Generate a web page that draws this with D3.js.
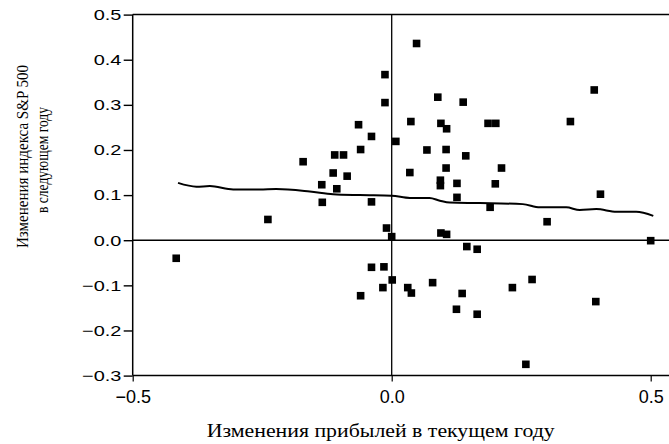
<!DOCTYPE html>
<html>
<head>
<meta charset="utf-8">
<script src="https://cdn.jsdelivr.net/npm/d3@7"></script>
<style>
  html, body { margin: 0; padding: 0; background: #fff; }
  svg { display: block; }
</style>
</head>
<body>
<svg id="chart" width="669" height="444"></svg>
<script>
// ---- data ----
const earningsChange = [
  -0.416, -0.239, -0.171, -0.135, -0.134, -0.113, -0.110, -0.093, -0.106, -0.086,
  -0.064, -0.060, -0.039, -0.039, -0.013, -0.013, 0.008, -0.010, 0.000, -0.060,
  -0.039, -0.015, 0.001, -0.017, 0.031, 0.038, 0.048, 0.037, 0.035, 0.068,
  0.079, 0.089, 0.095, 0.106, 0.105, 0.105, 0.094, 0.094, 0.095, 0.106,
  0.126, 0.126, 0.138, 0.143, 0.145, 0.165, 0.136, 0.125, 0.165, 0.186,
  0.201, 0.200, 0.212, 0.190, 0.233, 0.271, 0.259, 0.300, 0.345, 0.391,
  0.403, 0.394, 0.500
];
const spChangeNextYear = [
  -0.040, 0.046, 0.174, 0.123, 0.084, 0.149, 0.189, 0.189, 0.114, 0.142,
  0.256, 0.201, 0.230, 0.085, 0.367, 0.305, 0.219, 0.027, 0.008, -0.123,
  -0.060, -0.059, -0.088, -0.105, -0.105, -0.117, 0.436, 0.263, 0.150, 0.200,
  -0.094, 0.317, 0.259, 0.247, 0.201, 0.160, 0.133, 0.121, 0.016, 0.013,
  0.126, 0.095, 0.306, 0.187, -0.014, -0.020, -0.118, -0.153, -0.164, 0.259,
  0.259, 0.125, 0.160, 0.073, -0.105, -0.087, -0.275, 0.041, 0.263, 0.333,
  0.102, -0.136, -0.001
];
const trendX = [-0.4125, -0.377, -0.351, -0.306, -0.255, -0.223, -0.158, -0.113, -0.062, 0.000,
  0.035, 0.073, 0.093, 0.112, 0.170, 0.253, 0.286, 0.337, 0.363, 0.395, 0.434, 0.472, 0.505];
const trendY = [0.127, 0.1186, 0.120, 0.1126, 0.1126, 0.1135, 0.108, 0.102, 0.100, 0.0987,
  0.0935, 0.0935, 0.0876, 0.0835, 0.0824, 0.080, 0.0728, 0.0728, 0.067, 0.069, 0.063, 0.063, 0.054];
const xTicks = [-0.5, 0, 0.5];
const yTicks = [-0.3, -0.2, -0.1, 0.0, 0.1, 0.2, 0.3, 0.4, 0.5];
const xTitle = "Изменения прибылей в текущем году";
const yTitle1 = "Изменения индекса S&P 500";
const yTitle2 = "в следующем году";

// ---- drawing ----
const svg = d3.select("#chart");
const W = 669;
const x = d3.scaleLinear().domain([-0.5, 0.5]).range([132.7, 650.7]);
const y = d3.scaleLinear().domain([-0.3, 0.5]).range([375.6, 14.6]);
const fmt = d3.format(".1f");

// frame lines (left, top, bottom) extending to right edge
const frame = svg.append("g").attr("stroke", "#000").attr("fill", "none");
frame.append("line").attr("x1", x(-0.5)).attr("x2", x(-0.5)).attr("y1", y(0.5)).attr("y2", y(-0.3)).attr("stroke-width", 1.5);
frame.append("line").attr("x1", x(-0.5)).attr("x2", W).attr("y1", y(0.5)).attr("y2", y(0.5)).attr("stroke-width", 1.5);
frame.append("line").attr("x1", x(-0.5)).attr("x2", W).attr("y1", y(-0.3)).attr("y2", y(-0.3)).attr("stroke-width", 1.5);
// zero cross lines
frame.append("line").attr("x1", x(0)).attr("x2", x(0)).attr("y1", y(0.5)).attr("y2", y(-0.3)).attr("stroke-width", 1.3);
frame.append("line").attr("x1", x(-0.5)).attr("x2", W).attr("y1", y(0)).attr("y2", y(0)).attr("stroke-width", 1.3);

// y axis
const yAxis = svg.append("g")
  .attr("transform", `translate(${x(-0.5)},0)`)
  .call(d3.axisLeft(y).tickValues(yTicks).tickFormat(fmt).tickSize(9).tickPadding(2));
yAxis.select(".domain").remove();
yAxis.selectAll(".tick line").attr("stroke", "#000").attr("stroke-width", 1.4);
yAxis.selectAll(".tick text")
  .attr("x", 0)
  .attr("transform", "translate(-11.3,0) scale(1.33,1)")
  .attr("font-family", "'Liberation Sans', Arial, sans-serif")
  .attr("font-size", 15)
  .attr("fill", "#000");

// x axis
const xAxis = svg.append("g")
  .attr("transform", `translate(0,${y(-0.3)})`)
  .call(d3.axisBottom(x).tickValues(xTicks).tickFormat(fmt).tickSize(6).tickPadding(8));
xAxis.select(".domain").remove();
xAxis.selectAll(".tick line").attr("stroke", "#000").attr("stroke-width", 1.2);
xAxis.selectAll(".tick text")
  .attr("dy", null)
  .attr("y", 27.6)
  .attr("font-family", "'Liberation Sans', Arial, sans-serif")
  .attr("font-size", 18)
  .attr("fill", "#000");

// trend line
const line = d3.line().x(d => x(d[0])).y(d => y(d[1])).curve(d3.curveMonotoneX);
svg.append("path")
  .datum(d3.zip(trendX, trendY))
  .attr("d", line)
  .attr("fill", "none")
  .attr("stroke", "#000")
  .attr("stroke-width", 2);

// points
const S = 7.6;
svg.append("g").selectAll("rect")
  .data(d3.zip(earningsChange, spChangeNextYear))
  .join("rect")
  .attr("x", d => x(d[0]) - S / 2)
  .attr("y", d => y(d[1]) - S / 2)
  .attr("width", S)
  .attr("height", S)
  .attr("fill", "#000");

// titles
svg.append("text")
  .attr("x", 206.7).attr("y", 436.7)
  .attr("textLength", 348).attr("lengthAdjust", "spacingAndGlyphs")
  .attr("font-family", "'Liberation Serif', 'Times New Roman', serif")
  .attr("font-size", 19.5)
  .attr("fill", "#000")
  .text(xTitle);

svg.append("text")
  .attr("transform", "translate(28.3,156.5) rotate(-90)")
  .attr("text-anchor", "middle")
  .attr("textLength", 183).attr("lengthAdjust", "spacingAndGlyphs")
  .attr("font-family", "'Liberation Serif', 'Times New Roman', serif")
  .attr("font-size", 17.5)
  .attr("fill", "#000")
  .text(yTitle1);

svg.append("text")
  .attr("transform", "translate(47.5,160) rotate(-90)")
  .attr("text-anchor", "middle")
  .attr("textLength", 106).attr("lengthAdjust", "spacingAndGlyphs")
  .attr("font-family", "'Liberation Serif', 'Times New Roman', serif")
  .attr("font-size", 17.5)
  .attr("fill", "#000")
  .text(yTitle2);
</script>
</body>
</html>
